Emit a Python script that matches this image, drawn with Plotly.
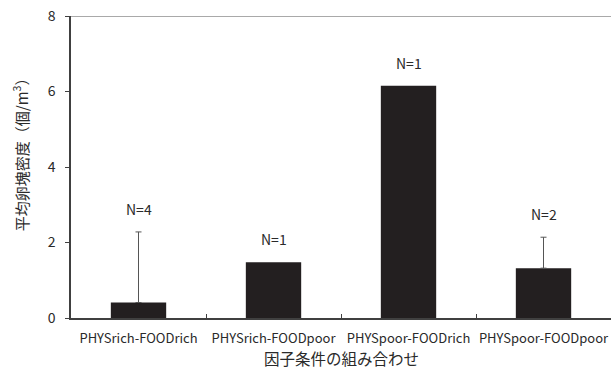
import plotly.graph_objects as go

# Mean egg-mass density per combination of physical and food conditions
categories = ["PHYSrich-FOODrich", "PHYSrich-FOODpoor", "PHYSpoor-FOODrich", "PHYSpoor-FOODpoor"]
mean_density = [0.41, 1.475, 6.15, 1.32]
error_upper = [1.87, None, None, 0.82]
sample_n = [4, 1, 1, 2]

FONT = "Noto Sans CJK JP"
TEXT = "#2a2a2a"
BAR = "#231f20"

fig = go.Figure()

# bars that carry an upper error whisker
with_err = [i for i, e in enumerate(error_upper) if e is not None]
no_err = [i for i, e in enumerate(error_upper) if e is None]

fig.add_trace(go.Bar(
    x=[categories[i] for i in with_err],
    y=[mean_density[i] for i in with_err],
    width=0.41,
    marker=dict(color=BAR, line=dict(width=0)),
    error_y=dict(
        type="data", symmetric=False,
        array=[error_upper[i] for i in with_err],
        arrayminus=[0] * len(with_err),
        color="#555555", thickness=1, width=3,
    ),
    showlegend=False,
))
fig.add_trace(go.Bar(
    x=[categories[i] for i in no_err],
    y=[mean_density[i] for i in no_err],
    width=0.41,
    marker=dict(color=BAR, line=dict(width=0)),
    showlegend=False,
))

# "N=" labels above each bar (above the error whisker where present)
for cat, m, e, n in zip(categories, mean_density, error_upper, sample_n):
    top = m + (e or 0)
    fig.add_annotation(
        x=cat, y=top, text=f"N={n}", showarrow=False,
        yanchor="bottom", yshift=11,
        font=dict(family=FONT, size=14, color=TEXT),
    )

# y-axis title, placed a little above the axis midpoint
fig.add_annotation(
    xref="paper", yref="paper", x=-0.094, y=0.553,
    text="平均卵塊密度（個/m<sup>3</sup>）", textangle=-90, showarrow=False,
    xanchor="center", yanchor="middle",
    font=dict(family=FONT, size=15, color=TEXT),
)

# x-axis title
fig.add_annotation(
    xref="paper", yref="paper", x=0.5, y=-0.132,
    text="因子条件の組み合わせ", showarrow=False,
    xanchor="center", yanchor="middle",
    font=dict(family=FONT, size=15.5, color=TEXT),
)

# thin grey line across the top of the plot area
fig.add_shape(type="line", xref="paper", yref="y", x0=0, x1=1, y0=8, y1=8,
              line=dict(color="#8c8c8c", width=1.5))

fig.update_layout(
    width=611, height=369,
    margin=dict(l=71, r=0, t=16, b=51),
    paper_bgcolor="white", plot_bgcolor="white",
    barmode="overlay",
    font=dict(family=FONT, color=TEXT),
    xaxis=dict(
        type="category", categoryorder="array", categoryarray=categories,
        range=[-0.5, len(categories) - 0.5],
        showline=True, linecolor="#404040", linewidth=1.5,
        ticks="inside", tickson="boundaries", ticklen=4, tickcolor="#404040",
        tickfont=dict(family=FONT, size=13, color=TEXT),
        tickangle=0,
        ticklabelstandoff=8,
        showgrid=False,
    ),
    yaxis=dict(
        range=[0, 8], dtick=2,
        showline=True, linecolor="#404040", linewidth=1.5,
        ticks="outside", ticklen=4, tickcolor="#404040",
        tickfont=dict(family=FONT, size=14, color=TEXT),
        ticklabelstandoff=7,
        showgrid=False, zeroline=False,
    ),
)

fig.write_html("out.html")
